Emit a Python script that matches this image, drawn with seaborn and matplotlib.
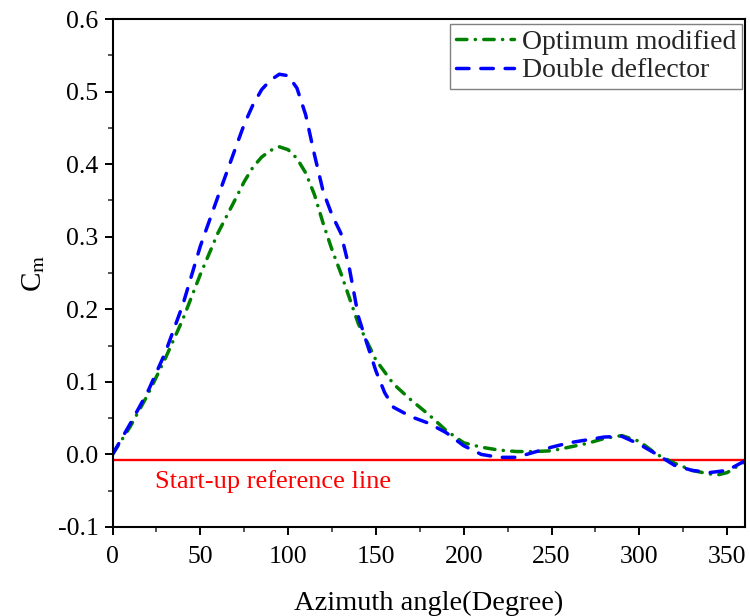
import numpy as np
import pandas as pd
import matplotlib
matplotlib.use("Agg")
import matplotlib.pyplot as plt
import seaborn as sns
from matplotlib.ticker import MultipleLocator

# ------------------------------------------------------------
# Dados
# ------------------------------------------------------------
angle_double = [0, 10, 20, 30, 40, 50, 60, 70, 75, 80, 85, 90, 95, 100, 105, 110,
                115, 120, 125, 130, 135, 140, 145, 150, 155, 160, 170, 180, 190,
                200, 210, 220, 230, 240, 250, 260, 270, 280, 290, 300, 310, 320,
                330, 340, 350, 360]
cm_double = [0.0, 0.042, 0.086, 0.140, 0.206, 0.287, 0.355, 0.422, 0.455, 0.482,
             0.503, 0.516, 0.524, 0.522, 0.505, 0.468, 0.413, 0.362, 0.330, 0.305,
             0.255, 0.190, 0.152, 0.115, 0.085, 0.065, 0.052, 0.043, 0.030, 0.012,
             0.000, -0.004, -0.004, 0.003, 0.010, 0.016, 0.020, 0.024, 0.025, 0.014,
             0.000, -0.015, -0.022, -0.025, -0.022, -0.009]

angle_optimum = [0, 10, 20, 30, 40, 50, 60, 70, 75, 80, 85, 90, 95, 100, 105, 110,
                 115, 120, 125, 130, 140, 150, 160, 170, 180, 190, 200, 210, 220,
                 230, 240, 250, 260, 270, 280, 290, 300, 310, 320, 330, 340, 345,
                 350, 360]
cm_optimum = [0.0, 0.038, 0.082, 0.132, 0.186, 0.248, 0.305, 0.352, 0.376, 0.396,
              0.410, 0.419, 0.424, 0.420, 0.408, 0.388, 0.358, 0.318, 0.282, 0.250,
              0.180, 0.130, 0.097, 0.075, 0.055, 0.033, 0.016, 0.010, 0.006, 0.004,
              0.004, 0.005, 0.010, 0.015, 0.022, 0.026, 0.018, 0.000, -0.012,
              -0.022, -0.027, -0.028, -0.025, -0.010]

startup_level = -0.008
x_range = [0, 360]

# ------------------------------------------------------------
# Estilo
# ------------------------------------------------------------
sns.set_theme(style="ticks")
plt.rcParams["font.family"] = ["Liberation Serif", "DejaVu Serif"]
plt.rcParams["mathtext.fontset"] = "stix"

fig = plt.figure(figsize=(7.5, 6.16), dpi=100)
ax = fig.add_axes([0.150, 0.1445, 0.843, 0.8245])

lw = 2.5
sns.lineplot(x=angle_optimum, y=cm_optimum, ax=ax, color="#008000", lw=lw,
             label="Optimum modified", sort=False,
             linestyle=(0, (3.0, 2.4, 0.05, 2.4)), dash_capstyle="round")
sns.lineplot(x=angle_double, y=cm_double, ax=ax, color="#0000ff", lw=lw,
             label="Double deflector", sort=False,
             linestyle=(0, (3.6, 3.4)), dash_capstyle="round")

# linha de referência de partida
ax.plot(x_range, [startup_level, startup_level], color="red", lw=1.7, zorder=1)
ax.text(24, -0.037, "Start-up reference line", color="red", fontsize=19,
        va="center", ha="left")

# eixos
ax.set_xlim(0, 360)
ax.set_ylim(-0.1, 0.6)
ax.xaxis.set_major_locator(MultipleLocator(50))
ax.xaxis.set_minor_locator(MultipleLocator(25))
ax.yaxis.set_minor_locator(MultipleLocator(0.05))
ax.set_yticks(np.arange(-0.1, 0.61, 0.1))
ax.set_yticklabels([f"{v:.1f}" for v in np.arange(-0.1, 0.61, 0.1)])

ax.tick_params(which="major", direction="out", length=6, width=1.4,
               labelsize=18.5, color="black", labelcolor="black", pad=4,
               bottom=True, left=True, top=False, right=False)
ax.tick_params(axis="x", which="major", pad=8)
ax.tick_params(which="minor", direction="out", length=3.5, width=1.1,
               bottom=True, left=True, top=False, right=False)
for sp in ax.spines.values():
    sp.set_linewidth(1.5)
    sp.set_color("black")

ax.set_xlabel("Azimuth angle(Degree)", fontsize=20.5, color="black", labelpad=16)
ax.set_ylabel(r"C$_\mathrm{m}$", fontsize=21, color="black", labelpad=8)

leg = ax.legend(loc="upper right", bbox_to_anchor=(0.996, 0.99), fontsize=20,
                frameon=True, fancybox=False, edgecolor="#808080", framealpha=1,
                handlelength=2.1, handletextpad=0.3, borderpad=0.2,
                labelspacing=0.1, borderaxespad=0.0)
leg.get_frame().set_linewidth(1.0)

fig.savefig("out.png", dpi=100)
